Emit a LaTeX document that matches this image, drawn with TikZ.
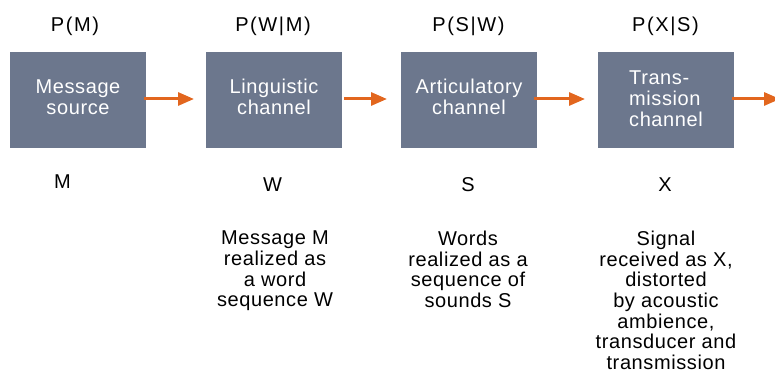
\documentclass[tikz,border=0pt]{standalone}
\usepackage{fontspec}
\setmainfont[LetterSpace=3]{Liberation Sans}
\newfontfamily\titlefont[LetterSpace=8]{Liberation Sans}
\usetikzlibrary{arrows.meta}
\definecolor{boxfill}{HTML}{6C778D}
\definecolor{arrowor}{HTML}{E2661E}
\begin{document}
\begin{tikzpicture}[x=1pt,y=1pt,
  chanbox/.style={fill=boxfill, minimum width=136pt, minimum height=96pt, inner sep=0pt,
    text=white, align=center, font=\fontsize{20}{21}\selectfont, text depth=6pt},
  title/.style={anchor=base, inner sep=0pt, font=\titlefont\fontsize{20}{21}\selectfont},
  varlab/.style={anchor=base, inner sep=0pt, font=\fontsize{20}{21}\selectfont},
  desc/.style={anchor=north, inner sep=0pt, align=center, font=\fontsize{20}{20.6}\selectfont},
  flow/.style={draw=arrowor, line width=3pt, -{Triangle[length=16pt,width=13pt]}}
]
\useasboundingbox (0,0) rectangle (775,374);
% titles
\node[title] (t1) at (75,342) {P(M)};
\node[title] (t2) at (273,342) {P(W|M)};
\node[title] (t3) at (468.5,342) {P(S|W)};
\node[title] (t4) at (665.5,342) {P(X|S)};
% boxes
\node[chanbox] (b1) at (78,274) {Message\\source};
\node[chanbox] (b2) at (274,274) {Linguistic\\channel};
\node[chanbox] (b3) at (469,274) {Articulatory\\channel};
\node[chanbox, align=left, text depth=2pt] (b4) at (666,274) {Trans-\\mission\\channel};
% arrow end points
\coordinate (e1) at (194,275);
\coordinate (e2) at (387,275);
\coordinate (e3) at (585,275);
\coordinate (e4) at (780,275);
\draw[flow] ([xshift=-2pt]b1.east |- e1) -- (e1);
\draw[flow] ([xshift=2pt]b2.east |- e2) -- (e2);
\draw[flow] ([xshift=-3pt]b3.east |- e3) -- (e3);
\draw[flow] ([xshift=-2pt]b4.east |- e4) -- (e4);
% variable labels
\node[varlab] (m) at (62.5,185) {M};
\node[varlab] (w) at (272.5,182) {W};
\node[varlab] (s) at (468,182) {S};
\node[varlab] (x) at (665,182) {X};
% descriptions
\node[desc] (d2) at (275,143) {Message M\\realized as\\a word\\sequence W};
\node[desc] (d3) at (468,143) {Words\\realized as a\\sequence of\\sounds S};
\node[desc] (d4) at (666,143) {Signal\\received as X,\\distorted\\by acoustic\\ambience,\\transducer and\\transmission};
\end{tikzpicture}
\end{document}
